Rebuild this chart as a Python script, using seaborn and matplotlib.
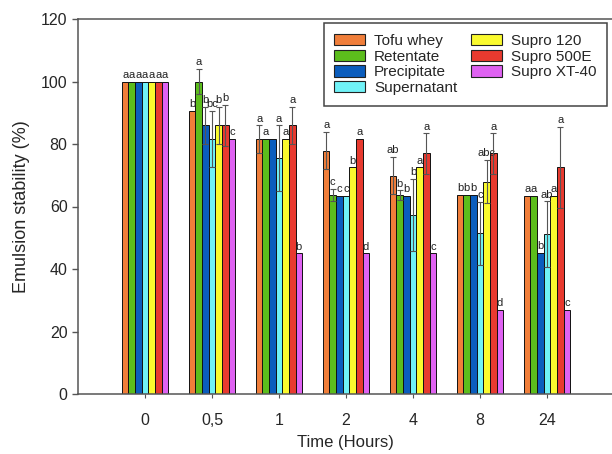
import matplotlib
matplotlib.use('Agg')
import matplotlib.pyplot as plt
import numpy as np
import pandas as pd
import seaborn as sns

# ---------------------------------------------------------------
# data
# ---------------------------------------------------------------
times = ['0', '0,5', '1', '2', '4', '8', '24']
samples = ['Tofu whey', 'Retentate', 'Precipitate', 'Supernatant',
           'Supro 120', 'Supro 500E', 'Supro XT-40']

tofu_whey = [100, 90.7, 81.6, 77.9, 69.9, 63.7, 63.5]
retentate = [100, 100, 81.6, 63.7, 63.7, 63.7, 63.5]
precipitate = [100, 86, 81.6, 63.4, 63.4, 63.7, 45.2]
supernatant = [100, 81.6, 75.5, 63.4, 57.3, 51.4, 51.2]
supro_120 = [100, 86, 81.6, 72.6, 72.6, 68, 63.4]
supro_500e = [100, 86, 86, 81.6, 77, 77, 72.5]
supro_xt40 = [100, 81.6, 45.1, 45.1, 45.1, 26.9, 26.9]

err_tofu_whey = [0, 0, 4.4, 6, 6, 0, 0]
err_retentate = [0, 4, 0, 2, 1.5, 0, 0]
err_precipitate = [0, 6, 0, 0, 0, 0, 0]
err_supernatant = [0, 9, 10.5, 0, 11.5, 10.2, 10.5]
err_supro_120 = [0, 6, 0, 0, 0, 7, 0]
err_supro_500e = [0, 6.5, 6, 0, 6.5, 6.5, 13]
err_supro_xt40 = [0, 0, 0, 0, 0, 0, 0]

let_tofu_whey = ['a', 'b', 'a', 'a', 'ab', 'b', 'a']
let_retentate = ['a', 'a', 'a', 'c', 'b', 'b', 'a']
let_precipitate = ['a', 'b', '', 'c', 'b', 'b', 'b']
let_supernatant = ['a', 'bc', 'a', 'c', 'b', 'c', 'ab']
let_supro_120 = ['a', 'b', 'a', 'b', 'a', 'abc', 'a']
let_supro_500e = ['a', 'b', 'a', 'a', 'a', 'a', 'a']
let_supro_xt40 = ['a', 'c', 'b', 'd', 'c', 'd', 'c']

colors = ['#F07E3A', '#5CBD1C', '#0B5DBD', '#70F2F7',
          '#FAFA2E', '#E83A2F', '#DF62F2']

values = [tofu_whey, retentate, precipitate, supernatant,
          supro_120, supro_500e, supro_xt40]
errors = [err_tofu_whey, err_retentate, err_precipitate, err_supernatant,
          err_supro_120, err_supro_500e, err_supro_xt40]
letters = [let_tofu_whey, let_retentate, let_precipitate, let_supernatant,
           let_supro_120, let_supro_500e, let_supro_xt40]

rows = []
for name, vals in zip(samples, values):
    for t, v in zip(times, vals):
        rows.append({'Time': t, 'Sample': name, 'Stability': v})
df = pd.DataFrame(rows)

# ---------------------------------------------------------------
# plot
# ---------------------------------------------------------------
sns.set_style('ticks')
plt.rcParams['font.family'] = ['Liberation Sans', 'DejaVu Sans']

fig = plt.figure(figsize=(6.12, 4.54), dpi=100)
ax = fig.add_axes([78 / 612, 1 - 394 / 454, 1 - 78 / 612, (394 - 19) / 454])

sns.barplot(data=df, x='Time', y='Stability', hue='Sample',
            order=times, hue_order=samples, palette=colors,
            width=0.69, gap=0, errorbar=None, edgecolor='#111111',
            linewidth=0.7, saturation=1, ax=ax)

# error bars and significance letters on top of each bar
for cont, errs, lets in zip(ax.containers, errors, letters):
    for bar, e, lab in zip(cont, errs, lets):
        xc = bar.get_x() + bar.get_width() / 2
        h = bar.get_height()
        if e > 0:
            ax.errorbar(xc, h, yerr=e, fmt='none', ecolor='#555555',
                        elinewidth=0.8, capsize=2.3, capthick=0.8, zorder=3)
        if lab:
            ax.text(xc, h + e + 0.5, lab, ha='center', va='bottom',
                    fontsize=8, color='#222222')

ax.set_xlim(-1, 6.97)
ax.set_ylim(0, 120)
ax.set_yticks(np.arange(0, 121, 20))
ax.set_xlabel('Time (Hours)', fontsize=12, labelpad=5)
ax.set_ylabel('Emulsion stability (%)', fontsize=13, labelpad=8)
ax.tick_params(axis='y', labelsize=11.5, length=4, width=1, color='#555555')
ax.tick_params(axis='x', labelsize=11.5, length=3, width=0.8, color='#555555',
               pad=11)

for side in ['left', 'bottom', 'top']:
    ax.spines[side].set_color('#555555')
    ax.spines[side].set_linewidth(1.1)
ax.spines['right'].set_visible(False)

leg = ax.legend(ncol=2, loc='upper right',
                bbox_to_anchor=(607 / 612, 1 - 23 / 454),
                bbox_transform=fig.transFigure, fontsize=11,
                frameon=True, fancybox=False, framealpha=1,
                handlelength=2.0, handleheight=0.75, labelspacing=0.12,
                columnspacing=0.9, handletextpad=0.6, borderpad=0.7,
                borderaxespad=0)
leg.get_frame().set_edgecolor('#444444')
leg.get_frame().set_linewidth(1.1)
for patch in leg.get_patches():
    patch.set_edgecolor('#222222')
    patch.set_linewidth(0.8)

fig.savefig('out.png', dpi=100)
